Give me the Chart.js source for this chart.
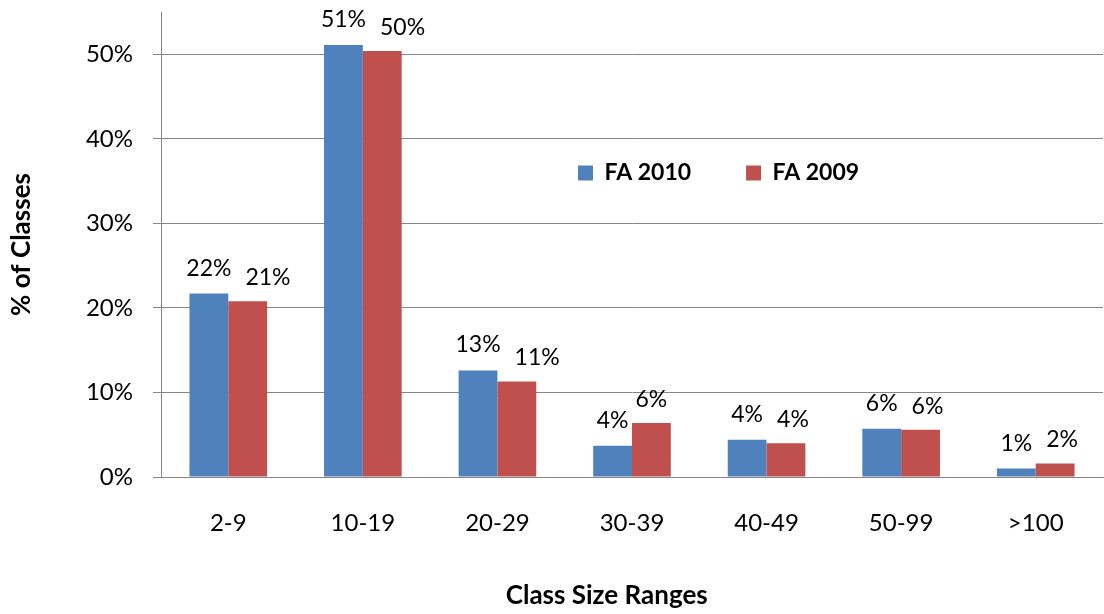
<!DOCTYPE html>
<html>
<head>
<meta charset="utf-8">
<script src="https://cdn.jsdelivr.net/npm/chart.js@4/dist/chart.umd.min.js"></script>
<style>
  html, body { margin: 0; padding: 0; background: #fff; }
  #wrap { width: 1104px; height: 614px; }
</style>
</head>
<body>
<div id="wrap"><canvas id="myChart" width="1104" height="614"></canvas></div>
<script>
// values
const categories = ['2-9', '10-19', '20-29', '30-39', '40-49', '50-99', '>100'];
const fa2010 = [21.7, 51.1, 12.6, 3.7, 4.4, 5.7, 1.0];
const fa2009 = [20.8, 50.4, 11.3, 6.4, 4.0, 5.6, 1.6];
const yTicks = [0, 10, 20, 30, 40, 50];

const gray = '#868686';
const fontName = 'Lato, "Open Sans", sans-serif';

// value labels above every bar; the second label moves right when it would touch the first
const barLabels = {
	id: 'barLabels',
	afterDatasetsDraw(chart) {
		const ctx = chart.ctx;
		ctx.save();
		ctx.font = '23px ' + fontName;
		ctx.fillStyle = '#000';
		ctx.textAlign = 'center';
		ctx.textBaseline = 'alphabetic';
		const first = chart.getDatasetMeta(0).data;
		const second = chart.getDatasetMeta(1).data;
		first.forEach((bar, j) => {
			const t1 = Math.round(fa2010[j]) + '%';
			const t2 = Math.round(fa2009[j]) + '%';
			const y1 = bar.y - 18;
			const y2 = second[j].y - 16;
			const w1 = ctx.measureText(t1).width;
			const w2 = ctx.measureText(t2).width;
			let x2 = second[j].x;
			if (Math.abs(y1 - y2) < 18) {
				x2 = Math.max(x2, bar.x + w1 / 2 + 14 + w2 / 2);
			}
			ctx.fillText(t1, bar.x, y1);
			ctx.fillText(t2, x2, y2);
		});
		ctx.restore();
	}
};

// legend (one row) floats inside the plot instead of taking room at the top
const legendPlace = {
	id: 'legendPlace',
	beforeLayout(chart) {
		const lg = chart.legend;
		if (lg && !lg._floating) {
			const fit = lg.fit;
			lg.fit = function () {
				fit.call(this);
				this.height = 0;
			};
			lg._floating = true;
		}
	},
	afterLayout(chart) {
		const lg = chart.legend;
		const pad = lg.options.labels.padding;
		lg.left = 578 - pad;
		lg.right = 1100;
		lg.top = 173 - pad - 11.5;
		lg.bottom = 230;
	}
};

const ctx = document.getElementById('myChart').getContext('2d');
const myChart = new Chart(ctx, {
	type: 'bar',
	data: {
		labels: categories,
		datasets: [{
			label: 'FA 2010',
			data: fa2010,
			backgroundColor: '#4F81BD',
			borderWidth: 0
		}, {
			label: 'FA 2009',
			data: fa2009,
			backgroundColor: '#C0504D',
			borderWidth: 0
		}]
	},
	options: {
		responsive: false,
		animation: false,
		layout: { padding: { top: 12, right: 1, left: 0, bottom: 0 } },
		datasets: {
			bar: { categoryPercentage: 0.577, barPercentage: 1 }
		},
		plugins: {
			tooltip: { enabled: false },
			legend: {
				position: 'top',
				align: 'start',
				labels: {
					boxWidth: 15,
					boxHeight: 15,
					padding: 55,
					color: '#000',
					font: { family: fontName, size: 23, weight: 'bold' }
				}
			}
		},
		scales: {
			x: {
				grid: { display: false },
				border: { display: true, color: gray, width: 1 },
				ticks: {
					color: '#000',
					padding: 24,
					font: { family: fontName, size: 24 }
				},
				title: {
					display: true,
					text: 'Class Size Ranges\u00a0\u00a0\u00a0\u00a0\u00a0\u00a0\u00a0\u00a0',
					color: '#000',
					padding: { top: 0, bottom: 3 },
					font: { family: fontName, size: 26, weight: 'bold' }
				},
				afterFit(scale) {
					scale.height = 137;
					scale.paddingLeft = 0;
					scale.paddingRight = 0;
				}
			},
			y: {
				min: 0,
				max: 55,
				afterBuildTicks(scale) {
					scale.ticks = yTicks.map(v => ({ value: v }));
				},
				grid: {
					color: gray,
					lineWidth: 1,
					drawTicks: true,
					tickLength: 8,
					tickColor: gray
				},
				border: { display: true, color: gray, width: 1 },
				ticks: {
					color: '#000',
					padding: 20,
					font: { family: fontName, size: 24 },
					callback: v => v + '%'
				},
				title: {
					display: true,
					text: '% of Classes',
					color: '#000',
					padding: { top: 6, bottom: 0 },
					font: { family: fontName, size: 26, weight: 'bold' }
				},
				afterFit(scale) {
					scale.width = 161;
					scale.paddingTop = 0;
					scale.paddingBottom = 0;
				}
			}
		}
	},
	plugins: [barLabels, legendPlace]
});
</script>
</body>
</html>
